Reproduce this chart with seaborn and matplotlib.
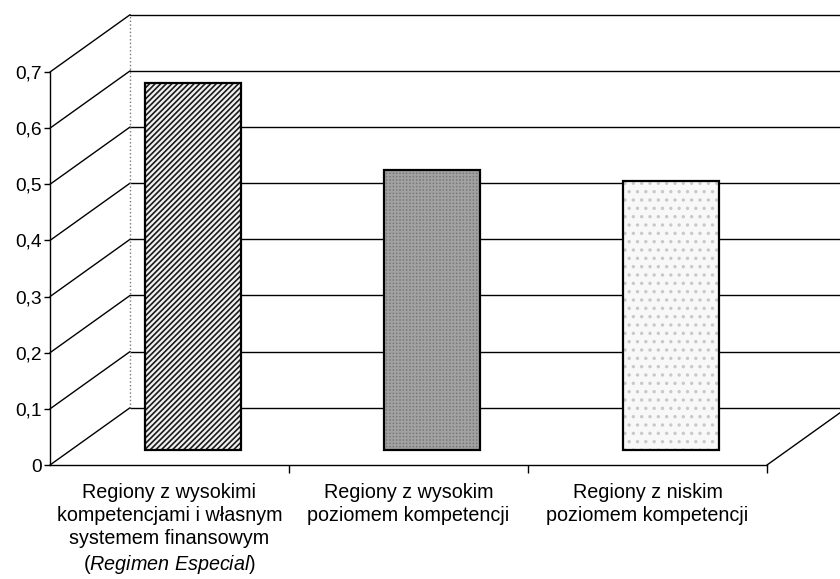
import numpy as np
import pandas as pd
import seaborn as sns
import matplotlib.pyplot as plt
import matplotlib.colors as mcolors

# data
categories = [
    "Regiony z wysokimi\nkompetencjami i własnym\nsystemem finansowym\n($\\mathit{Regimen\\ Especial}$)",
    "Regiony z wysokim\npoziomem kompetencji",
    "Regiony z niskim\npoziomem kompetencji",
]
values = [0.655, 0.50, 0.48]
y_ticks = [0.0, 0.1, 0.2, 0.3, 0.4, 0.5, 0.6, 0.7]
y_tick_labels = ["0", "0,1", "0,2", "0,3", "0,4", "0,5", "0,6", "0,7"]

# fake 3D look: depth of the box in data units, and where the bars sit in it
DEPTH_X, DEPTH_Y = 0.335, 0.102
BAR_DX, BAR_DY = 0.098, 0.026

bar_styles = [
    {"face": "#f0f0f0", "hatch": "//////", "hatch_color": "#1a1a1a"},
    {"face": "#7a7a7a", "hatch": "+++++", "hatch_color": "#a2a2a2"},
    {"face": "#f8f8f8", "hatch": "..", "hatch_color": "#c8c8c8"},
]


def set_hatch_color(patch, color):
    if hasattr(patch, "set_hatchcolor"):
        patch.set_hatchcolor(color)
    else:
        patch._hatch_color = mcolors.to_rgba(color)


def main():
    sns.set_theme(style="white")
    plt.rcParams["font.family"] = ["Liberation Sans", "DejaVu Sans"]
    plt.rcParams["mathtext.fontset"] = "custom"
    plt.rcParams["mathtext.rm"] = "Liberation Sans"
    plt.rcParams["mathtext.it"] = "Liberation Sans:italic"
    plt.rcParams["hatch.linewidth"] = 1.2

    df = pd.DataFrame({"label": categories, "value": values})

    fig = plt.figure(figsize=(8.4, 5.79), dpi=100)
    ax = fig.add_axes([50 / 840, (579 - 465) / 579, 717 / 840, 393 / 579])

    sns.barplot(data=df, x="label", y="value", order=categories, width=0.4,
                color="white", edgecolor="black", linewidth=1.6, ax=ax, zorder=3)

    for p, st in zip(ax.patches, bar_styles):
        p.set_x(p.get_x() + BAR_DX)
        p.set_y(BAR_DY)
        p.set_facecolor(st["face"])
        p.set_hatch(st["hatch"])
        set_hatch_color(p, st["hatch_color"])
        p.set_clip_on(False)

    ax.set_xlim(-0.5, 2.5)
    ax.set_ylim(0, 0.7)

    line_kw = dict(color="black", lw=1.0, clip_on=False, zorder=1)
    # side wall and back wall
    for t in y_ticks:
        ax.plot([-0.5, -0.5 + DEPTH_X], [t, t + DEPTH_Y], **line_kw)
        ax.plot([-0.5 + DEPTH_X, 3.5], [t + DEPTH_Y, t + DEPTH_Y], **line_kw)
    ax.plot([-0.5 + DEPTH_X, -0.5 + DEPTH_X], [DEPTH_Y, 0.7 + DEPTH_Y],
            color="#777777", lw=1.0, ls=":", clip_on=False, zorder=1)
    # floor right edge
    ax.plot([2.5, 2.5 + DEPTH_X], [0, DEPTH_Y], **line_kw)

    for side in ["top", "right"]:
        ax.spines[side].set_visible(False)
    for side in ["left", "bottom"]:
        ax.spines[side].set_color("black")
        ax.spines[side].set_linewidth(1.0)

    ax.set_yticks(y_ticks)
    ax.set_yticklabels(y_tick_labels, fontsize=13.8)
    ax.tick_params(axis="y", length=4, width=1, pad=2, colors="black", left=True)

    ax.set_xticks([0, 1, 2])
    ax.set_xticklabels(categories, fontsize=14.2, linespacing=1.28)
    ax.set_xticks([0.5, 1.5, 2.5], minor=True)
    ax.tick_params(axis="x", which="major", length=0, pad=13, colors="black")
    ax.tick_params(axis="x", which="minor", length=6, width=1, bottom=True,
                   colors="black")

    ax.set_xlabel("")
    ax.set_ylabel("")
    ax.grid(False)
    ax.set_facecolor("none")

    fig.savefig("out.png", dpi=100, facecolor="white")


if __name__ == "__main__":
    main()
